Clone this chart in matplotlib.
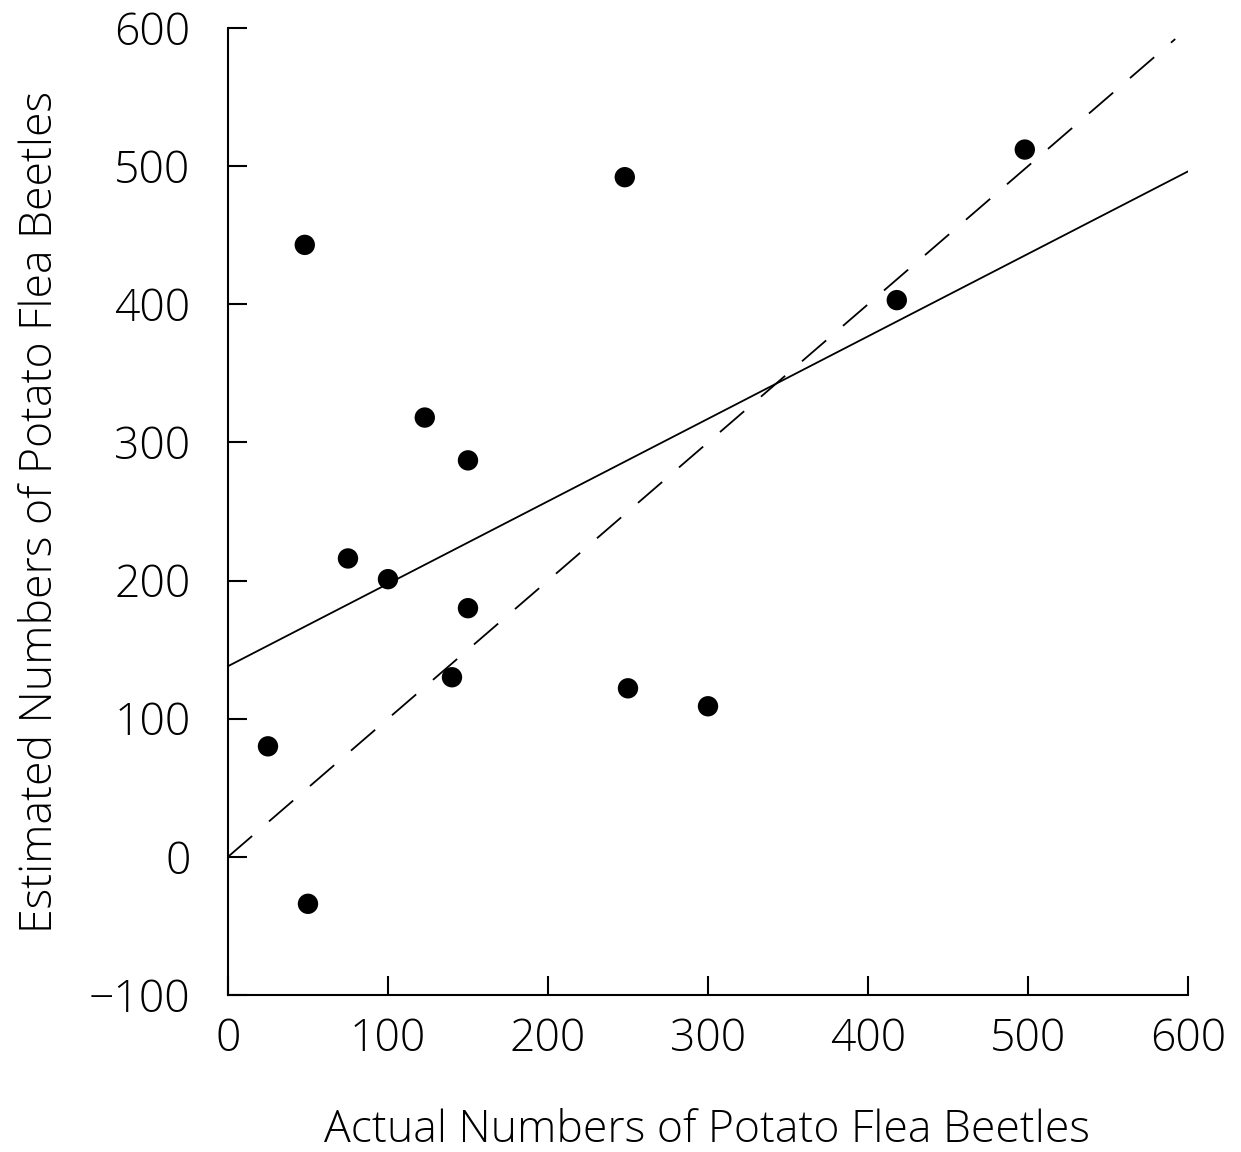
import matplotlib
matplotlib.use("Agg")
import matplotlib.pyplot as plt
import numpy as np
from matplotlib import font_manager

# Data
actual = [25, 48, 50, 75, 100, 123, 140, 150, 150, 248, 250, 300, 418, 498]
estimated = [80, 443, -34, 216, 201, 318, 130, 287, 180, 492, 122, 109, 403, 512]
reg_intercept = 138
reg_slope = 0.597
x_ticks = [0, 100, 200, 300, 400, 500, 600]
y_ticks = [-100, 0, 100, 200, 300, 400, 500, 600]

fam = "Open Sans"
names = {f.name for f in font_manager.fontManager.ttflist}
if fam not in names:
    fam = "DejaVu Sans"
plt.rcParams['font.family'] = [fam, 'DejaVu Sans']
plt.rcParams['lines.scale_dashes'] = False

fig = plt.figure(figsize=(12.41, 11.52), dpi=100)
ax = fig.add_axes([0.1837, 0.1363, 0.9573 - 0.1837, 0.9757 - 0.1363])

ax.scatter(actual, estimated, s=215, color='black', zorder=3, edgecolors='none')

xs = np.array([0, 600])
ax.plot(xs, reg_intercept + reg_slope * xs, color='black', lw=1.3)
ax.plot([0, 592], [0, 592], color='black', lw=1.3, dashes=(23, 16))

ax.set_xlim(0, 600)
ax.set_ylim(-100, 600)
ax.set_xticks(x_ticks)
ax.set_yticks(y_ticks)
ax.set_xticklabels([str(v) for v in x_ticks])
ax.set_yticklabels(['\u2212100' if v == -100 else str(v) for v in y_ticks])

for s in ['top', 'right']:
    ax.spines[s].set_visible(False)
for s in ['left', 'bottom']:
    ax.spines[s].set_linewidth(1.5)

ax.tick_params(axis='both', direction='in', length=14, width=1.5,
               labelsize=32, colors='black')
ax.tick_params(axis='x', pad=16)
ax.tick_params(axis='y', pad=27)

for lab in ax.get_xticklabels() + ax.get_yticklabels():
    lab.set_fontweight(300)
    lab.set_color('black')

ax.set_xlabel('Actual Numbers of Potato Flea Beetles', fontsize=32,
              fontweight=300, color='black', va='center')
ax.set_ylabel('Estimated Numbers of Potato Flea Beetles', fontsize=32,
              fontweight=300, color='black', va='center')
ax.xaxis.set_label_coords(0.499, -0.140)
ax.yaxis.set_label_coords(-0.195, 0.4995)

fig.savefig('out.png', dpi=100, facecolor='white')
